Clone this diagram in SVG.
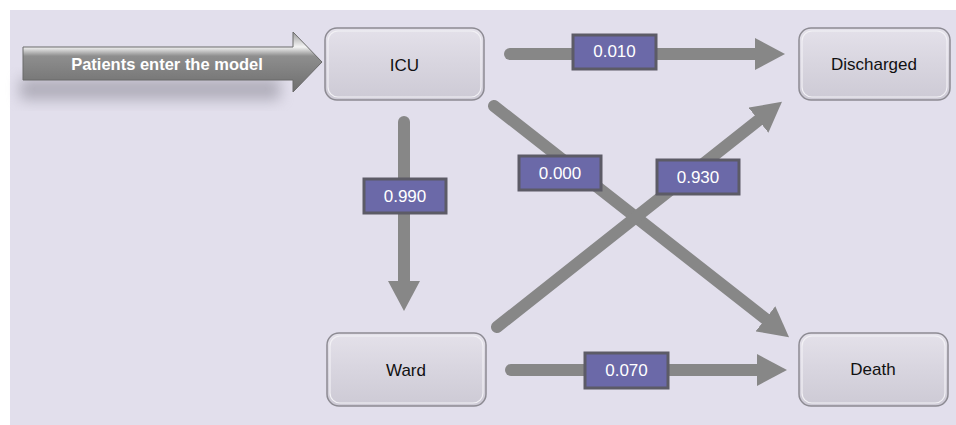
<svg xmlns="http://www.w3.org/2000/svg" width="956" height="425" viewBox="0 0 956 425">
<defs>
<linearGradient id="nodeFill" x1="0" y1="0" x2="0" y2="1">
<stop offset="0" stop-color="#e4e1ea"/>
<stop offset="0.5" stop-color="#d8d5df"/>
<stop offset="1" stop-color="#cdcad5"/>
</linearGradient>
<linearGradient id="entryFill" x1="0" y1="0" x2="0" y2="1">
<stop offset="0" stop-color="#9a9a9a"/>
<stop offset="0.25" stop-color="#f4f4f4"/>
<stop offset="0.4" stop-color="#8e8e8e"/>
<stop offset="1" stop-color="#6e6e6e"/>
</linearGradient>
<filter id="blur" x="-20%" y="-50%" width="140%" height="200%">
<feGaussianBlur stdDeviation="7"/>
</filter>
<marker id="head" viewBox="0 0 30 32" refX="2" refY="16" markerWidth="30" markerHeight="32" markerUnits="userSpaceOnUse" orient="auto">
<path d="M0,0 L30,16 L0,32 Z" fill="#878787"/>
</marker>
<style>
.bg{fill:#e2dfec}
.node rect.box{fill:url(#nodeFill);stroke:#8d8b93;stroke-width:1.5}
.node rect.hi{fill:none;stroke:#f2f1f5;stroke-width:1.2}
.node text{font-family:"Liberation Sans",Arial,sans-serif;font-size:17px;fill:#111;text-anchor:middle}
.conn line{stroke:#878787;stroke-width:12;stroke-linecap:round;marker-end:url(#head)}
.lbl rect{fill:#6b69a8;stroke:#5c5b66;stroke-width:3}
.lbl text{font-family:"Liberation Sans",Arial,sans-serif;font-size:17px;fill:#ffffff;text-anchor:middle}
</style>
</defs>
<rect x="0" y="0" width="956" height="425" fill="#ffffff"/>
<rect class="bg" x="10" y="10" width="946" height="415"/>

<g id="entry">
<rect x="20" y="78" width="260" height="22" fill="#8a8894" opacity="0.55" filter="url(#blur)"/>
<path d="M23,47 L293,47 L293,32 L322,62 L293,92 L293,80 L23,80 Z" fill="url(#entryFill)" stroke="#6a6a6a" stroke-width="1"/>
<text x="167" y="70" font-family="Liberation Sans,Arial,sans-serif" font-size="16.5" font-weight="bold" fill="#ffffff" text-anchor="middle">Patients enter the model</text>
</g>

<g id="connectors" class="conn">
<line x1="510" y1="54" x2="757" y2="54"/>
<line x1="404" y1="122" x2="404" y2="283"/>
<line x1="494" y1="106" x2="767" y2="320"/>
<line x1="497" y1="327" x2="760" y2="119"/>
<line x1="511" y1="370" x2="759" y2="370"/>
</g>

<g id="labels">
<g class="lbl" id="lbl-icu-discharged"><rect x="573" y="35" width="83" height="34"/><text x="614.5" y="57">0.010</text></g>
<g class="lbl" id="lbl-icu-ward"><rect x="364" y="179" width="82" height="34"/><text x="405" y="202">0.990</text></g>
<g class="lbl" id="lbl-icu-death"><rect x="519" y="156" width="82" height="34"/><text x="560" y="179">0.000</text></g>
<g class="lbl" id="lbl-ward-discharged"><rect x="657" y="160" width="82" height="34"/><text x="698" y="183">0.930</text></g>
<g class="lbl" id="lbl-ward-death"><rect x="585" y="353" width="83" height="35"/><text x="626.5" y="376">0.070</text></g>
</g>

<g id="icu" class="node">
<rect class="box" x="325" y="28" width="159" height="72" rx="12"/>
<rect class="hi" x="328" y="31" width="153" height="66" rx="10"/>
<text x="404.5" y="71">ICU</text>
</g>
<g id="discharged" class="node">
<rect class="box" x="799" y="28" width="151" height="72" rx="12"/>
<rect class="hi" x="802" y="31" width="145" height="66" rx="10"/>
<text x="874" y="70">Discharged</text>
</g>
<g id="ward" class="node">
<rect class="box" x="327" y="333" width="159" height="73" rx="12"/>
<rect class="hi" x="330" y="336" width="153" height="67" rx="10"/>
<text x="406" y="376">Ward</text>
</g>
<g id="death" class="node">
<rect class="box" x="799" y="333" width="149" height="73" rx="12"/>
<rect class="hi" x="802" y="336" width="143" height="67" rx="10"/>
<text x="873" y="375">Death</text>
</g>
</svg>
